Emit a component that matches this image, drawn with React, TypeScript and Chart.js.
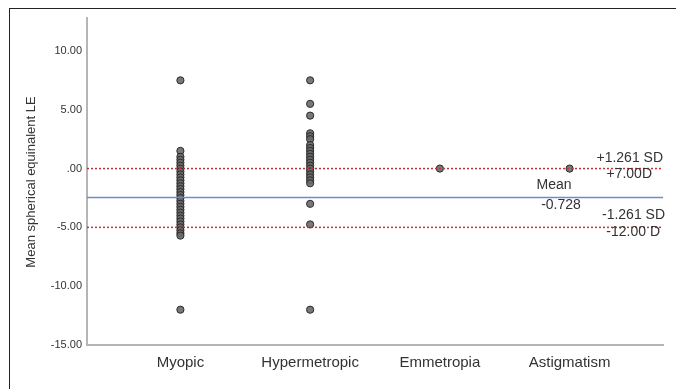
import React, { useEffect, useRef } from "react";
import { Chart, registerables } from "chart.js";

Chart.register(...registerables);

const categories = ["Myopic", "Hypermetropic", "Emmetropia", "Astigmatism"];

const myopicValues = [
  7.5, 1.5, 1.0, 0.75, 0.5, 0.25, 0, -0.25, -0.5, -0.75, -1.0, -1.25, -1.5, -1.75, -2.0,
  -2.25, -2.5, -2.75, -3.0, -3.25, -3.5, -3.75, -4.0, -4.25, -4.5, -4.75, -5.0, -5.25,
  -5.5, -5.7, -12.0,
];
const hypermetropicValues = [
  7.5, 5.5, 4.5, 3.0, 2.75, 2.5, 2.0, 1.75, 1.5, 1.25, 1.0, 0.75, 0.5, 0.25, 0, -0.25,
  -0.5, -0.75, -1.0, -1.25, -3.0, -4.75, -12.0,
];
const emmetropiaValues = [0];
const astigmatismValues = [0];

const upperLimit = 0;
const lowerLimit = -5;
const meanLine = -2.47;

const yTicks = [10, 5, 0, -5, -10, -15];

const upperLabels = ["+1.261 SD", "+7.00D"];
const meanLabels = ["Mean", "-0.728"];
const lowerLabels = ["-1.261 SD", "-12.00 D"];

const X_MIN = -0.72;
const X_MAX = 3.72;

function fmtTick(v: number): string {
  const s = Math.abs(v).toFixed(2);
  const t = s.startsWith("0") ? s.slice(1) : s;
  return (v < 0 ? "-" : "") + t;
}

export default function App() {
  const ref = useRef<HTMLCanvasElement | null>(null);

  useEffect(() => {
    if (!ref.current) return;
    const groups = [myopicValues, hypermetropicValues, emmetropiaValues, astigmatismValues];
    const points = groups.flatMap((vals, i) => vals.map((v) => ({ x: i, y: v })));

    const labelPlugin = {
      id: "labels",
      afterDatasetsDraw(chart: any) {
        const { ctx, scales } = chart;
        const y = scales.y;
        ctx.save();
        ctx.fillStyle = "#333";
        ctx.textBaseline = "middle";
        ctx.font = "14px 'Liberation Sans', Arial, sans-serif";
        const yu = y.getPixelForValue(upperLimit);
        const yl = y.getPixelForValue(lowerLimit);
        const ym = y.getPixelForValue(meanLine);
        ctx.textAlign = "right";
        ctx.fillText(upperLabels[0], 663, yu - 10);
        ctx.fillText(upperLabels[1], 652, yu + 6);
        ctx.fillText(lowerLabels[0], 665, yl - 12);
        ctx.fillText(lowerLabels[1], 660, yl + 5);
        ctx.textAlign = "center";
        ctx.fillText(meanLabels[0], 554, ym - 12);
        ctx.fillText(meanLabels[1], 561, ym + 8);
        // y axis title
        ctx.translate(31, 182);
        ctx.rotate(-Math.PI / 2);
        ctx.font = "13px 'Liberation Sans', Arial, sans-serif";
        ctx.fillText("Mean spherical equinalent LE", 0, 0);
        ctx.restore();
      },
    };

    const chart = new Chart(ref.current, {
      type: "scatter",
      data: {
        datasets: [
          {
            type: "line",
            data: [
              { x: X_MIN, y: upperLimit },
              { x: X_MAX, y: upperLimit },
            ],
            borderColor: "#c8303a",
            borderWidth: 1.5,
            borderDash: [2, 2],
            pointRadius: 0,
            order: 0,
          } as any,
          {
            type: "line",
            data: [
              { x: X_MIN, y: lowerLimit },
              { x: X_MAX, y: lowerLimit },
            ],
            borderColor: "#c8303a",
            borderWidth: 1.5,
            borderDash: [2, 2],
            pointRadius: 0,
            order: 0,
          } as any,
          {
            type: "line",
            data: [
              { x: X_MIN, y: meanLine },
              { x: X_MAX, y: meanLine },
            ],
            borderColor: "#6f8cc6",
            borderWidth: 1.5,
            pointRadius: 0,
            order: 0,
          } as any,
          {
            data: points,
            backgroundColor: "rgba(105,105,105,0.9)",
            borderColor: "#2a2a2a",
            borderWidth: 1,
            pointRadius: 3.6,
            order: 1,
          },
        ],
      },
      options: {
        animation: false,
        responsive: false,
        maintainAspectRatio: false,
        layout: { padding: { top: 18, right: 13, left: 0, bottom: 0 } },
        plugins: { legend: { display: false }, tooltip: { enabled: false } },
        scales: {
          x: {
            type: "linear",
            min: X_MIN,
            max: X_MAX,
            grid: { display: false, drawTicks: false },
            border: { color: "#b5b5b5", width: 2 },
            afterBuildTicks: (s: any) => {
              s.ticks = categories.map((_, i) => ({ value: i }));
            },
            afterFit: (s: any) => {
              s.height = 44;
            },
            ticks: {
              autoSkip: false,
              maxRotation: 0,
              padding: 9,
              color: "#333",
              font: { family: "'Liberation Sans', Arial, sans-serif", size: 15 },
              callback: (v: any) => categories[Math.round(Number(v))] ?? "",
            },
          },
          y: {
            min: -15,
            max: 12.8,
            grid: { display: false, drawTicks: false },
            border: { color: "#b5b5b5", width: 2 },
            afterBuildTicks: (s: any) => {
              s.ticks = yTicks.map((v) => ({ value: v }));
            },
            afterFit: (s: any) => {
              s.width = 87;
            },
            ticks: {
              padding: 5,
              color: "#333",
              font: { family: "'Liberation Sans', Arial, sans-serif", size: 11 },
              callback: (v: any) => fmtTick(Number(v)),
            },
          },
        },
      },
      plugins: [labelPlugin],
    });
    return () => chart.destroy();
  }, []);

  return (
    <div style={{ position: "fixed", left: 0, top: 0, width: 676, height: 389, background: "#fff" }}>
      <div
        style={{
          position: "absolute",
          left: 9,
          top: 8,
          width: 676,
          height: 400,
          borderTop: "1px solid #222",
          borderLeft: "1px solid #222",
        }}
      />
      <canvas ref={ref} width={676} height={389} style={{ position: "absolute", left: 0, top: 0 }} />
    </div>
  );
}
